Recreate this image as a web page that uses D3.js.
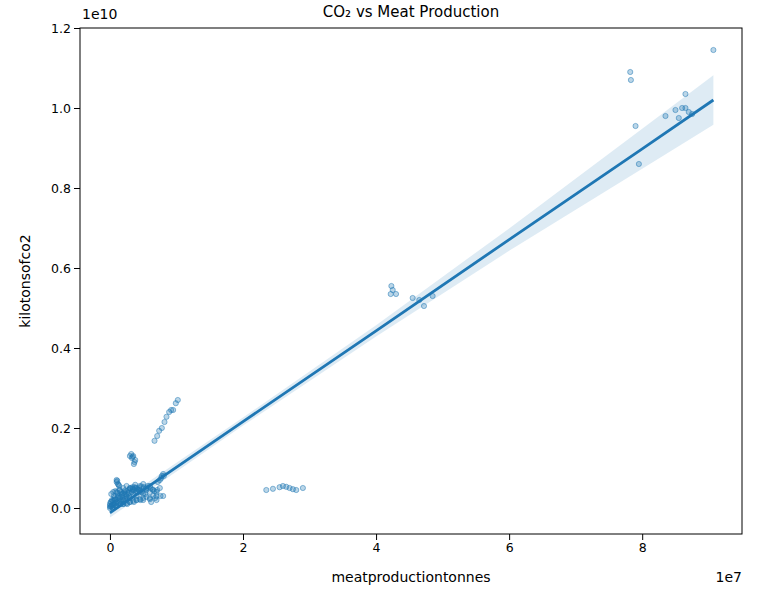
<!DOCTYPE html>
<html lang="en">
<head>
<meta charset="UTF-8">
<title>CO2 vs Meat Production</title>
<script src="https://d3js.org/d3.v7.min.js"></script>
<style>
  body { margin: 0; background: #fff; }
  text { font-family: "DejaVu Sans", sans-serif; }
  .tick text { font-size: 12.5px; }
</style>
</head>
<body>
<svg width="757" height="606"></svg>
<script>
// meat production (x1e7 tonnes), co2 (x1e10 kilotons)
const meatProduction = [
  9.07, 7.82, 7.83, 8.65, 8.5, 8.6, 8.65, 8.7, 8.35, 8.55, 7.9, 7.95, 8.75,
  4.23, 4.25, 4.3, 4.22, 4.55, 4.65, 4.85, 4.72,
  2.35, 2.45, 2.55, 2.6, 2.65, 2.7, 2.75, 2.8, 2.9,
  0.67, 0.71, 0.74, 0.78, 0.82, 0.85, 0.89, 0.92, 0.95, 0.99, 1.02,
  0.3, 0.32, 0.35, 0.33, 0.38, 0.36, 0.34, 0.37,
  0.8, 0.78, 0.75, 0.72, 0.77, 0.81,
  0.1, 0.12, 0.14, 0.1, 0.11, 0.13,
  0.0, 0.02, 0.05, 0.08, 0.1, 0.15, 0.2, 0.25, 0.3, 0.35, 0.4, 0.45, 0.5, 0.55, 0.6, 0.65, 0.7, 0.75,
  0.0, 0.03, 0.06, 0.1, 0.15, 0.2, 0.25, 0.3, 0.35, 0.4, 0.45, 0.5, 0.55, 0.6,
  0.05, 0.1, 0.2, 0.3, 0.4, 0.5, 0.6, 0.7, 0.8,
  0.02, 0.07, 0.12, 0.18, 0.22, 0.28, 0.33, 0.38, 0.43, 0.48, 0.53,
  0.0, 0.04, 0.09, 0.16, 0.26, 0.36, 0.46, 0.62, 0.68,
  0.01, 0.03, 0.05, 0.07, 0.09, 0.11, 0.13, 0.15, 0.17, 0.19, 0.21, 0.23, 0.25, 0.27, 0.29,
  0.01, 0.04, 0.06, 0.08, 0.12, 0.14, 0.16, 0.18, 0.22, 0.24, 0.28, 0.32, 0.36, 0.4, 0.44,
  0.31, 0.34, 0.37, 0.41, 0.44, 0.47, 0.51, 0.54, 0.57, 0.61, 0.64, 0.67, 0.71,
  0.2, 0.25, 0.3, 0.35, 0.4, 0.45, 0.5, 0.55, 0.6, 0.65, 0.7, 0.76,
  0.02, 0.05, 0.08, 0.11, 0.14, 0.17, 0.2, 0.23, 0.26, 0.3, 0.34, 0.38
];
const co2 = [
  1.145, 1.09, 1.07, 1.035, 0.995, 1.0, 1.0, 0.99, 0.98, 0.975, 0.955, 0.86, 0.985,
  0.555, 0.545, 0.535, 0.535, 0.525, 0.52, 0.53, 0.505,
  0.045, 0.048, 0.052, 0.055, 0.053, 0.05, 0.047, 0.045, 0.05,
  0.168, 0.18, 0.193, 0.2, 0.215, 0.228, 0.24, 0.245, 0.245, 0.262, 0.27,
  0.13, 0.135, 0.13, 0.125, 0.12, 0.11, 0.128, 0.115,
  0.085, 0.08, 0.07, 0.065, 0.075, 0.08,
  0.065, 0.06, 0.055, 0.07, 0.068, 0.058,
  0.0, 0.005, 0.01, 0.02, 0.015, 0.025, 0.02, 0.03, 0.025, 0.035, 0.03, 0.04, 0.035, 0.045, 0.04, 0.045, 0.04, 0.05,
  0.01, 0.02, 0.03, 0.04, 0.045, 0.05, 0.055, 0.05, 0.045, 0.05, 0.055, 0.06, 0.05, 0.055,
  0.0, 0.005, 0.01, 0.015, 0.02, 0.02, 0.025, 0.03, 0.03,
  0.015, 0.025, 0.03, 0.035, 0.04, 0.045, 0.04, 0.05, 0.045, 0.04, 0.035,
  0.005, 0.0, 0.005, 0.01, 0.01, 0.015, 0.02, 0.015, 0.025,
  0.003, 0.006, 0.008, 0.01, 0.012, 0.014, 0.012, 0.016, 0.018, 0.02, 0.018, 0.022, 0.024, 0.026, 0.028,
  0.015, 0.018, 0.02, 0.022, 0.026, 0.03, 0.028, 0.032, 0.036, 0.034, 0.038, 0.04, 0.044, 0.042, 0.046,
  0.05, 0.048, 0.052, 0.046, 0.05, 0.054, 0.052, 0.048, 0.055, 0.05, 0.046, 0.042, 0.045,
  0.01, 0.012, 0.015, 0.018, 0.02, 0.022, 0.025, 0.028, 0.022, 0.03, 0.02, 0.03,
  0.035, 0.04, 0.042, 0.038, 0.045, 0.04, 0.036, 0.044, 0.04, 0.048, 0.052, 0.058
];
// regression line and confidence band
const fitX = [0.0, 2.0, 4.0, 6.0, 8.0, 9.07];
const fitY = [-0.012, 0.216, 0.443, 0.671, 0.898, 1.02];
const ciHalf = [0.012, 0.01, 0.014, 0.028, 0.05, 0.062];
const xTicks = [0, 2, 4, 6, 8];
const yTicks = [0.0, 0.2, 0.4, 0.6, 0.8, 1.0, 1.2];

const svg = d3.select("svg");
const L = 80, R = 742, T = 28, B = 534;
const x = d3.scaleLinear().domain([-0.45, 9.5]).range([L, R]);
const y = d3.scaleLinear().domain([-0.065, 1.2]).range([B, T]);
const blue = "#1f77b4";

const pts = meatProduction.map((m, i) => ({ m, c: co2[i] }));
svg.append("g").selectAll("circle").data(pts).enter().append("circle")
  .attr("cx", d => x(d.m)).attr("cy", d => y(d.c)).attr("r", 2.6)
  .attr("fill", blue).attr("fill-opacity", 0.3)
  .attr("stroke", blue).attr("stroke-opacity", 0.5).attr("stroke-width", 1);

const band = fitX.map((v, i) => ({ x: v, lo: fitY[i] - ciHalf[i], hi: fitY[i] + ciHalf[i], y: fitY[i] }));
svg.append("path").datum(band)
  .attr("d", d3.area().x(d => x(d.x)).y0(d => y(d.lo)).y1(d => y(d.hi)))
  .attr("fill", blue).attr("fill-opacity", 0.15);
svg.append("path").datum(band)
  .attr("d", d3.line().x(d => x(d.x)).y(d => y(d.y)))
  .attr("fill", "none").attr("stroke", blue).attr("stroke-width", 2.8);

svg.append("g").attr("transform", `translate(0,${B})`)
  .call(d3.axisBottom(x).tickValues(xTicks).tickFormat(d3.format("d")).tickSizeOuter(0))
  .call(g => g.select(".domain").remove());
svg.append("g").attr("transform", `translate(${L},0)`)
  .call(d3.axisLeft(y).tickValues(yTicks).tickFormat(d3.format(".1f")).tickSizeOuter(0))
  .call(g => g.select(".domain").remove());
svg.selectAll(".tick text").attr("fill", "#000");
svg.selectAll(".tick line").attr("stroke", "#000");
svg.append("rect").attr("x", L).attr("y", T).attr("width", R - L).attr("height", B - T)
  .attr("fill", "none").attr("stroke", "#000").attr("stroke-width", 1);

svg.append("text").attr("x", (L + R) / 2).attr("y", 17).attr("text-anchor", "middle")
  .attr("font-size", 15).text("CO₂ vs Meat Production");
svg.append("text").attr("x", (L + R) / 2).attr("y", 582).attr("text-anchor", "middle")
  .attr("font-size", 14).text("meatproductiontonnes");
svg.append("text").attr("transform", `translate(30,${(T + B) / 2}) rotate(-90)`)
  .attr("text-anchor", "middle").attr("font-size", 14).text("kilotonsofco2");
svg.append("text").attr("x", 82).attr("y", 19).attr("font-size", 14).text("1e10");
svg.append("text").attr("x", 742).attr("y", 582).attr("text-anchor", "end").attr("font-size", 14).text("1e7");
</script>
</body>
</html>
